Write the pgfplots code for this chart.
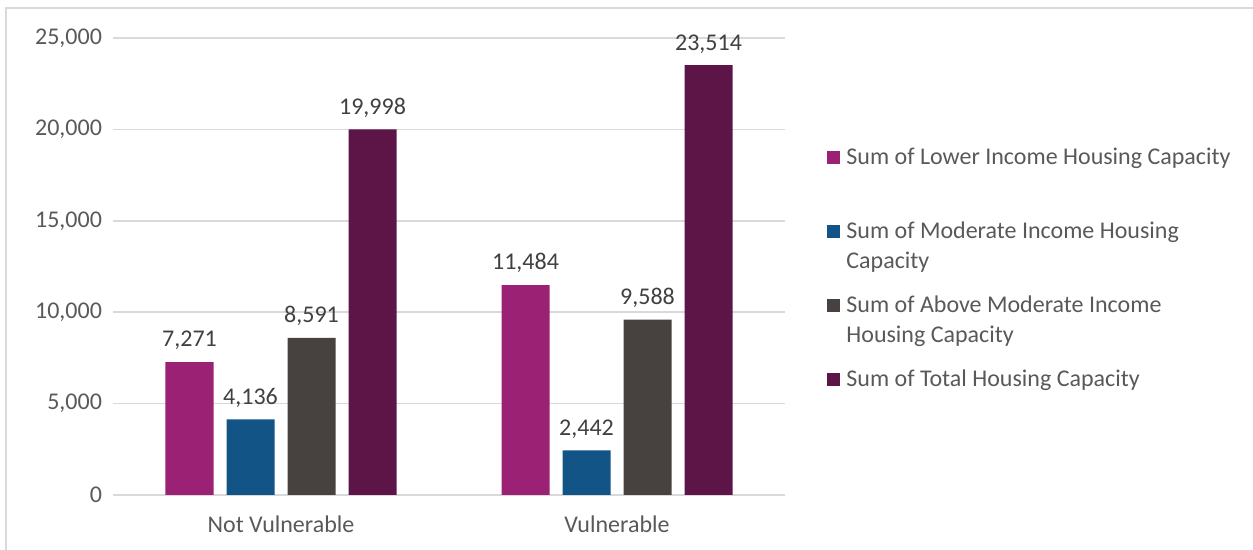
\documentclass[border=0pt]{standalone}
\usepackage{pgfplots}
\pgfplotsset{compat=1.18}
\usepackage{fontspec}
\setmainfont{Carlito}
\definecolor{cA}{HTML}{9B2175}
\definecolor{cB}{HTML}{135486}
\definecolor{cC}{HTML}{474240}
\definecolor{cD}{HTML}{5D1446}
\definecolor{gridgray}{HTML}{D9D9D9}
\definecolor{ticktext}{HTML}{595959}
\definecolor{labeltext}{HTML}{404040}
\begin{document}
\begin{tikzpicture}[x=1pt,y=1pt]
\useasboundingbox (0,0) rectangle (626.5,275);
\draw[color=gridgray, line width=1pt] (3,0) -- (3,271) -- (626.5,271);
\begin{axis}[
  at={(56.5pt,27.5pt)}, anchor=south west,
  scale only axis, width=336pt, height=228.5pt,
  ybar, bar width=24pt,
  xmin=-0.5, xmax=1.5, ymin=0, ymax=25000,
  xtick={0,1}, xticklabels={Not Vulnerable, Vulnerable},
  ytick={0,5000,10000,15000,20000,25000},
  scaled y ticks=false,
  axis line style={draw=none},
  major tick length=0pt,
  ymajorgrids, grid style={gridgray, line width=0.8pt},
  /pgf/number format/assume math mode=true,
  yticklabel style={font=\fontsize{12}{14}\selectfont, text=ticktext, xshift=-2pt, /pgf/number format/.cd, fixed, precision=0, 1000 sep={,}},
  xticklabel style={font=\fontsize{12}{14}\selectfont, text=ticktext, yshift=-7pt},
  nodes near coords={\pgfmathprintnumber[fixed,precision=0,1000 sep={,},assume math mode=true]{\pgfplotspointmeta}},
  nodes near coords style={font=\fontsize{12}{14}\selectfont, text=labeltext, anchor=south, yshift=2.5pt},
  point meta=y,
  clip=false,
]
\addplot[fill=cA, draw=none, bar shift=-45.75pt] coordinates {(0,7271) (1,11484)};
\addplot[fill=cB, draw=none, bar shift=-15.25pt] coordinates {(0,4136) (1,2442)};
\addplot[fill=cC, draw=none, bar shift=15.25pt] coordinates {(0,8591) (1,9588)};
\addplot[fill=cD, draw=none, bar shift=45.75pt] coordinates {(0,19998) (1,23514)};
\end{axis}
\begin{scope}[every node/.style={font=\fontsize{12}{14}\selectfont, text=ticktext, anchor=mid west, inner sep=0pt}]
\fill[cA] (413.5,193) rectangle ++(6.5,6.5);
\node at (423,195) {Sum of Lower Income Housing Capacity};
\fill[cB] (413.5,156) rectangle ++(6.5,6.5);
\node at (423,158) {Sum of Moderate Income Housing};
\node at (423,143) {Capacity};
\fill[cC] (413.5,119) rectangle ++(6.5,6.5);
\node at (423,121) {Sum of Above Moderate Income};
\node at (423,106) {Housing Capacity};
\fill[cD] (413.5,82) rectangle ++(6.5,6.5);
\node at (423,84) {Sum of Total Housing Capacity};
\end{scope}
\end{tikzpicture}
\end{document}
